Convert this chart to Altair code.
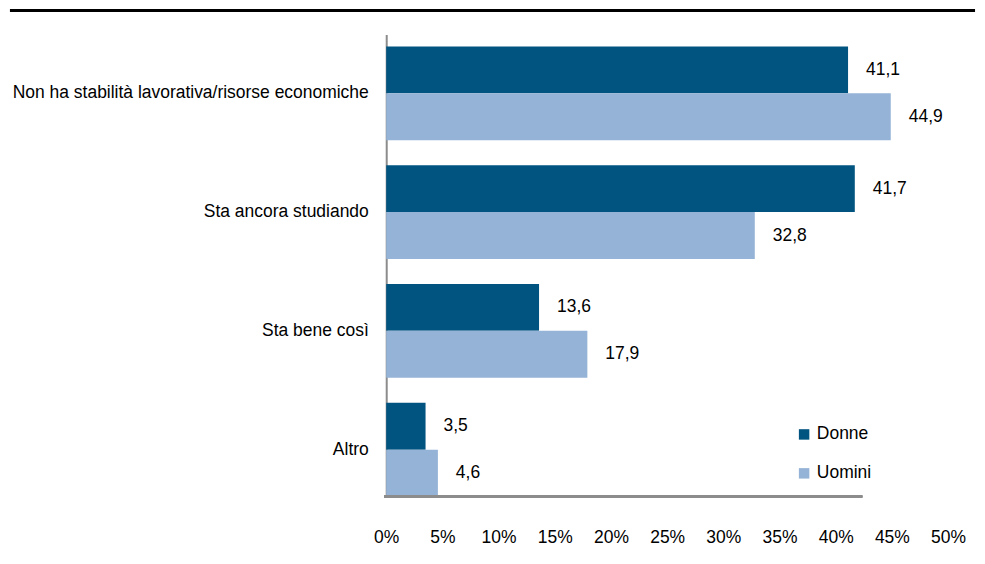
import altair as alt
import pandas as pd

categories = ["Non ha stabilità lavorativa/risorse economiche", "Sta ancora studiando", "Sta bene così", "Altro"]
series = ["Donne", "Uomini"]
donne = [41.1, 41.7, 13.6, 3.5]
uomini = [44.9, 32.8, 17.9, 4.6]
x_ticks = [0, 5, 10, 15, 20, 25, 30, 35, 40, 45, 50]
colors = ["#00547F", "#95B3D7"]

rows = []
for c, d, u in zip(categories, donne, uomini):
    rows.append({"cat": c, "serie": "Donne", "val": d})
    rows.append({"cat": c, "serie": "Uomini", "val": u})
df = pd.DataFrame(rows)

FONT = "Liberation Sans"
FS = 17.5

y_enc = alt.Y("cat:N", sort=categories, title=None,
              scale=alt.Scale(paddingInner=0.21, paddingOuter=0.05, align=1),
              axis=alt.Axis(domainColor="#8C8C8C", domainWidth=2, ticks=False,
                            labelPadding=18, labelFont=FONT, labelFontSize=FS,
                            labelColor="black", labelLimit=500))
yoff = alt.YOffset("serie:N", sort=series, scale=alt.Scale(paddingInner=0, paddingOuter=0))
x_enc = alt.X("val:Q", title=None,
              scale=alt.Scale(domain=[0, 50], nice=False),
              axis=alt.Axis(values=x_ticks, labelExpr="datum.value + '%'", domain=False,
                            ticks=False, grid=False, labelPadding=32, labelFont=FONT,
                            labelFontSize=FS, labelColor="black", labelFlush=False,
                            labelOverlap=False, labelBound=False))

bars = alt.Chart(df).mark_bar().encode(
    x=x_enc, y=y_enc, yOffset=yoff,
    color=alt.Color("serie:N", sort=series, title=None,
                    scale=alt.Scale(domain=series, range=colors),
                    legend=alt.Legend(orient="none", legendX=410, legendY=392,
                                      symbolType="square", symbolSize=110,
                                      symbolStrokeWidth=0, labelFont=FONT,
                                      labelFontSize=FS, labelColor="black",
                                      rowPadding=20, labelOffset=4, padding=0)),
)

labels = alt.Chart(df).mark_text(align="left", baseline="middle", dx=18,
                                 font=FONT, fontSize=FS, color="black").encode(
    x="val:Q", y=alt.Y("cat:N", sort=categories), yOffset=alt.YOffset("serie:N", sort=series),
    text=alt.Text("lbl:N"),
).transform_calculate(lbl="replace(format(datum.val, '.1f'), '.', ',')")

x_line = alt.Chart(df).mark_rule(color="#8C8C8C", strokeWidth=2).encode(
    x=alt.value(-2), x2=alt.value(477), y=alt.value(463))

top_line = alt.Chart(df).mark_rule(color="black", strokeWidth=3).encode(
    x=alt.value(-377), x2=alt.value(590), y=alt.value(-24))

chart = alt.layer(bars, labels, x_line, top_line).properties(
    width=563, height=463, padding=0
).configure_view(stroke=None)

chart.save("out.html", embed_options={"renderer": "svg", "actions": False})
